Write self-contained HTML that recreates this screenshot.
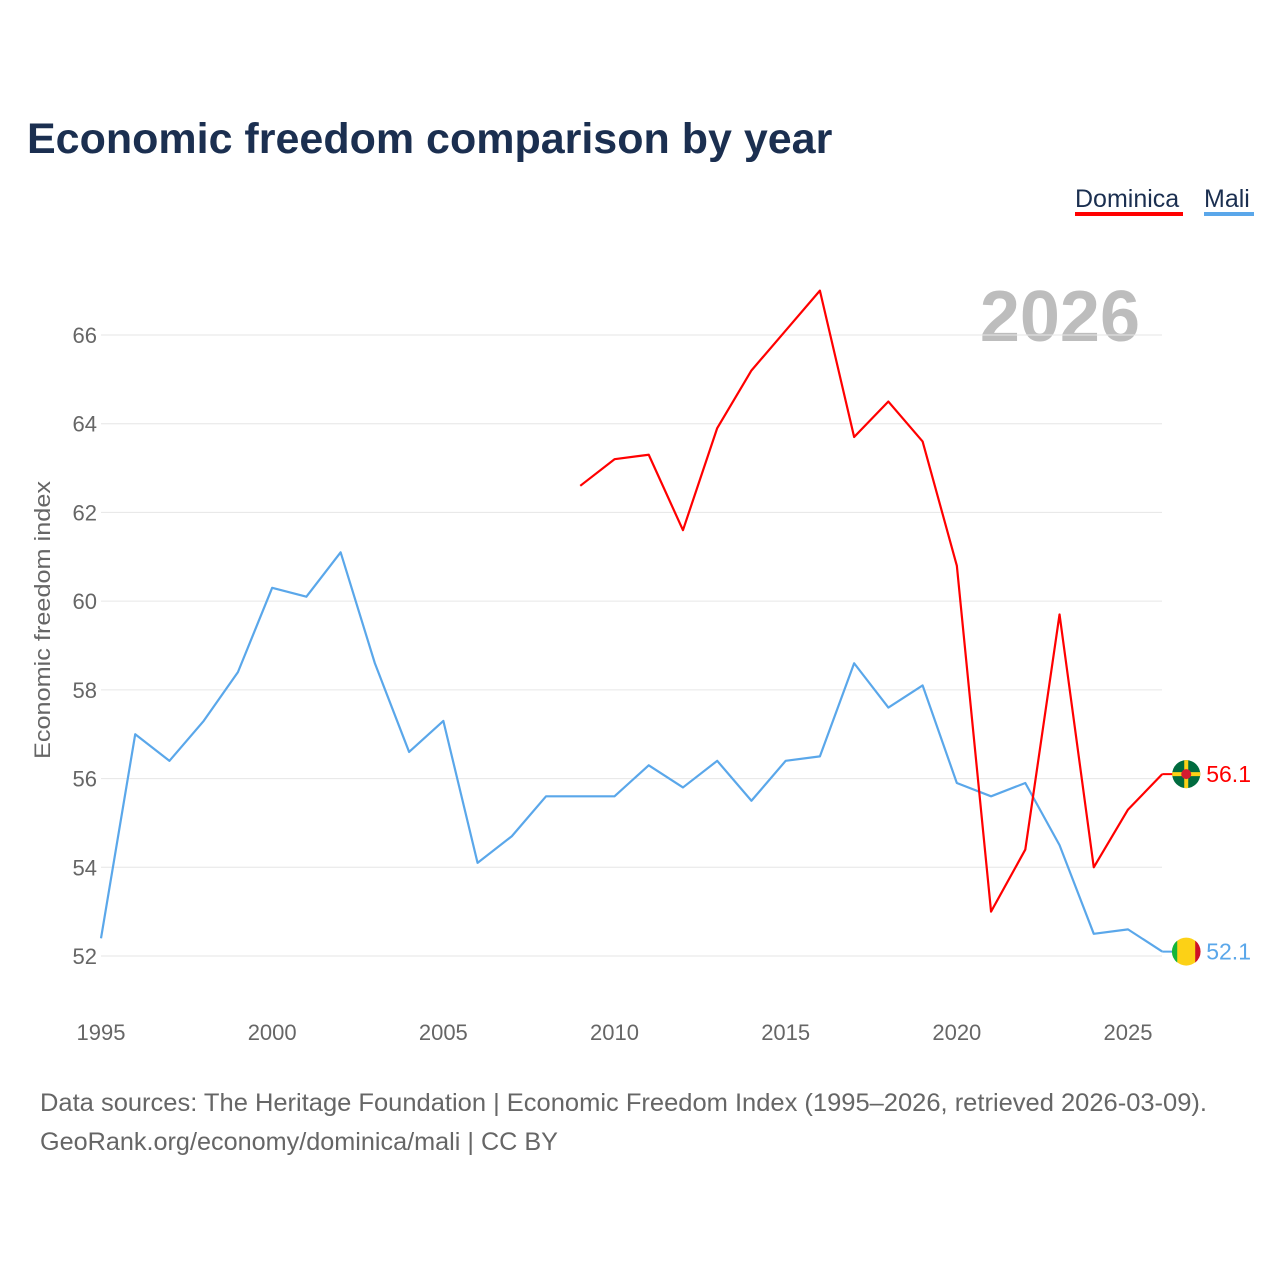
<!DOCTYPE html>
<html><head><meta charset="utf-8"><style>
body{margin:0;background:#fff;font-family:"Liberation Sans",sans-serif;}
svg text{font-family:"Liberation Sans",sans-serif;}
</style></head><body>
<svg width="1280" height="1280" xmlns="http://www.w3.org/2000/svg">
<text x="27" y="153" font-size="43" font-weight="bold" fill="#1b2f50">Economic freedom comparison by year</text>
<g>
<text x="1075" y="207" font-size="25" fill="#1b2f50">Dominica</text>
<rect x="1075" y="212" width="108" height="4" fill="#ff0000"/>
<text x="1204" y="207" font-size="25" fill="#1b2f50">Mali</text>
<rect x="1204" y="212" width="50" height="4" fill="#5aa7ea"/>
</g>
<text x="1140" y="341" font-size="72" font-weight="bold" fill="#bdbdbd" text-anchor="end">2026</text>
<text transform="translate(50,620) rotate(-90)" font-size="22" fill="#666" text-anchor="middle" textLength="278" lengthAdjust="spacingAndGlyphs">Economic freedom index</text>
<g id="grid"></g><g id="lines"></g>
<text x="40" y="1111" font-size="25" fill="#666" textLength="1167" lengthAdjust="spacingAndGlyphs">Data sources: The Heritage Foundation | Economic Freedom Index (1995–2026, retrieved 2026-03-09).</text>
<text x="40" y="1150" font-size="25" fill="#666" textLength="518" lengthAdjust="spacingAndGlyphs">GeoRank.org/economy/dominica/mali | CC BY</text>
</svg>
<script>
const maliYears=[1995,1996,1997,1998,1999,2000,2001,2002,2003,2004,2005,2006,2007,2008,2009,2010,2011,2012,2013,2014,2015,2016,2017,2018,2019,2020,2021,2022,2023,2024,2025,2026];
const maliValues=[52.4,57.0,56.4,57.3,58.4,60.3,60.1,61.1,58.6,56.6,57.3,54.1,54.7,55.6,55.6,55.6,56.3,55.8,56.4,55.5,56.4,56.5,58.6,57.6,58.1,55.9,55.6,55.9,54.5,52.5,52.6,52.1];
const domYears=[2009,2010,2011,2012,2013,2014,2015,2016,2017,2018,2019,2020,2021,2022,2023,2024,2025,2026];
const domValues=[62.6,63.2,63.3,61.6,63.9,65.2,66.1,67.0,63.7,64.5,63.6,60.8,53.0,54.4,59.7,54.0,55.3,56.1];
const yTicks=[52,54,56,58,60,62,64,66];
const xTicks=[1995,2000,2005,2010,2015,2020,2025];
const NS="http://www.w3.org/2000/svg";
const X=y=>101+(y-1995)*(1128-101)/30;
const Y=v=>956-(v-52)*(956-335)/14;
function mk(t,a,p){const e=document.createElementNS(NS,t);for(const k in a)e.setAttribute(k,a[k]);p.appendChild(e);return e;}
const g=document.getElementById('grid');
yTicks.forEach(v=>{
 const l=mk('line',{x1:101,x2:1162,y1:Y(v),y2:Y(v),stroke:'#e6e6e6','stroke-width':1},g);
 
 
 const t=mk('text',{x:97,y:Y(v)+8,'font-size':22,fill:'#666','text-anchor':'end'},g);t.textContent=v;
 
 
});
xTicks.forEach(v=>{
 const t=mk('text',{x:X(v),y:1040,'font-size':22,fill:'#666','text-anchor':'middle'},g);t.textContent=v;
 
 
});
const L=document.getElementById('lines');
function series(ys,vs,col,name){
 const p=mk('polyline',{points:ys.map((y,i)=>X(y)+','+Y(vs[i])).join(' '),fill:'none',stroke:col,'stroke-width':2.2,'stroke-linejoin':'round'},L);
 
 
 const last=vs[vs.length-1],ly=Y(last),lx=X(ys[ys.length-1]);
 mk('line',{x1:lx,x2:lx+24,y1:ly,y2:ly,stroke:col,'stroke-width':2},L);
 const c=mk('circle',{cx:lx+24,cy:ly,r:14,fill:name==='mali'?'#fcd116':'#006b3f'},L);
 
 
 if(name==='mali'){mk('path',{d:`M${lx+15},${ly-11} A14,14 0 0 0 ${lx+15},${ly+11} Z`,fill:'#14b53a'},L);mk('path',{d:`M${lx+33},${ly-11} A14,14 0 0 1 ${lx+33},${ly+11} Z`,fill:'#ce1126'},L);}
 else{mk('rect',{x:lx+10,y:ly-2,width:28,height:4,fill:'#fcd116'},L);mk('rect',{x:lx+22,y:ly-14,width:4,height:28,fill:'#fcd116'},L);mk('circle',{cx:lx+24,cy:ly,r:5,fill:'#d41c30'},L);}
 const t=mk('text',{x:lx+44,y:ly+8,'font-size':23,fill:col},L);t.textContent=last.toFixed(1);
 
 
}
series(maliYears,maliValues,'#5aa7ea','mali');
series(domYears,domValues,'#ff0000','dominica');
</script>
</body></html>
